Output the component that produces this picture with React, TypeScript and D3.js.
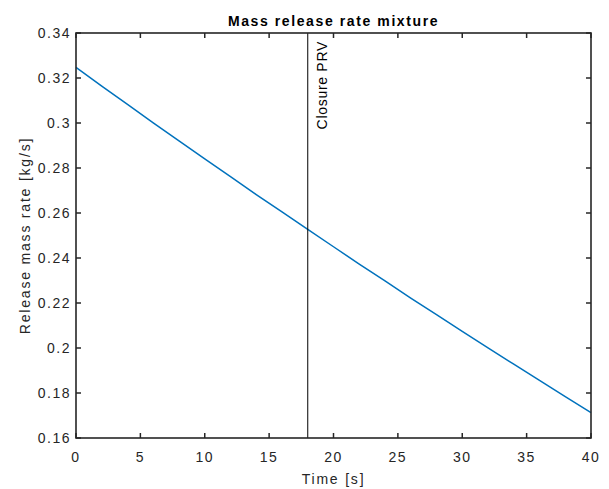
import React from "react";
import * as d3 from "d3";

const times = [0, 2, 4, 6, 8, 10, 12, 14, 16, 18, 20, 22, 24, 26, 28, 30, 32, 34, 36, 38, 40];
const rates = [0.3247, 0.3164, 0.3083, 0.3001, 0.2921, 0.2841, 0.2762, 0.2682, 0.2605, 0.2527, 0.245, 0.2373, 0.2298, 0.2222, 0.2148, 0.2074, 0.2001, 0.1928, 0.1856, 0.1784, 0.1713];
const xTicks = [0, 5, 10, 15, 20, 25, 30, 35, 40];
const yTicks = [0.16, 0.18, 0.2, 0.22, 0.24, 0.26, 0.28, 0.3, 0.32, 0.34];
const closureTime = 18;
const title = "Mass release rate mixture";
const xLabel = "Time [s]";
const yLabel = "Release mass rate [kg/s]";
const markerLabel = "Closure PRV";

export default function App() {
  const W = 609, H = 489;
  const L = 76, R = 591, T = 33, B = 438;
  const x = d3.scaleLinear().domain([0, 40]).range([L, R]);
  const y = d3.scaleLinear().domain([0.16, 0.34]).range([B, T]);
  const line = d3.line<number>().x((_, i) => x(times[i])).y((d) => y(d));
  const font = "Liberation Sans, Arial, sans-serif";
  const axisColor = "#262626";
  const tl = 5;
  const ls = 1.5;
  return (
    <svg width={W} height={H} style={{ position: "absolute", left: 0, top: 0, background: "#fff" }} fontFamily={font}>
      <rect x={0} y={0} width={W} height={H} fill="#fff" />
      <path d={line(rates) || ""} fill="none" stroke="#0072BD" strokeWidth={1.5} />
      <line x1={x(closureTime)} x2={x(closureTime)} y1={T} y2={B} stroke="#000" strokeWidth={1} />
      <text
        transform={`translate(${x(closureTime) + 19},${T + 8}) rotate(-90)`}
        textAnchor="end"
        fontSize={14}
        letterSpacing={0.7}
        fill="#000"
      >
        {markerLabel}
      </text>
      <rect x={L} y={T} width={R - L} height={B - T} fill="none" stroke={axisColor} strokeWidth={1.6} />
      {xTicks.map((t) => (
        <g key={"x" + t}>
          <line x1={x(t)} x2={x(t)} y1={B} y2={B - tl} stroke={axisColor} strokeWidth={1.5} />
          <line x1={x(t)} x2={x(t)} y1={T} y2={T + tl} stroke={axisColor} strokeWidth={1.5} />
          <text x={x(t)} y={B + 24} textAnchor="middle" fontSize={14} letterSpacing={ls} fill={axisColor}>
            {t}
          </text>
        </g>
      ))}
      {yTicks.map((t) => (
        <g key={"y" + t}>
          <line x1={L} x2={L + tl} y1={y(t)} y2={y(t)} stroke={axisColor} strokeWidth={1.5} />
          <line x1={R} x2={R - tl} y1={y(t)} y2={y(t)} stroke={axisColor} strokeWidth={1.5} />
          <text x={L - 5} y={y(t) + 5} textAnchor="end" fontSize={14} letterSpacing={ls} fill={axisColor}>
            {d3.format("~g")(t)}
          </text>
        </g>
      ))}
      <text x={(L + R) / 2} y={T - 7} textAnchor="middle" fontSize={14} fontWeight="bold" letterSpacing={1.6} fill="#000">
        {title}
      </text>
      <text x={(L + R) / 2} y={B + 46} textAnchor="middle" fontSize={14} letterSpacing={1.8} fill={axisColor}>
        {xLabel}
      </text>
      <text
        transform={`translate(${30},${(T + B) / 2}) rotate(-90)`}
        textAnchor="middle"
        fontSize={14}
        letterSpacing={1.8}
        fill={axisColor}
      >
        {yLabel}
      </text>
    </svg>
  );
}
